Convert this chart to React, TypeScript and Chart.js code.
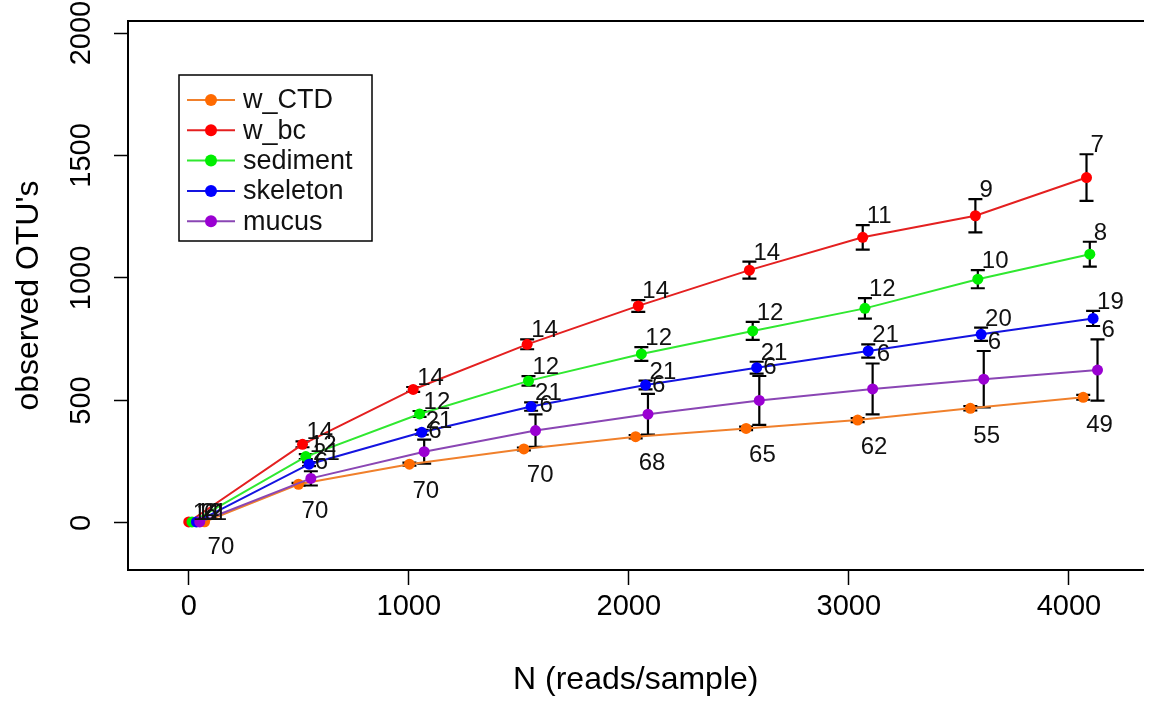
import React, { useEffect, useRef } from 'react';
import { Chart, registerables } from 'chart.js';

Chart.register(...registerables);

// ---------- data ----------
const seriesNames = ['w_CTD', 'w_bc', 'sediment', 'skeleton', 'mucus'];

const readsCTD = [72, 499, 1003, 1523, 2031, 2533, 3040, 3552, 4065];
const readsBc = [0, 517, 1020, 1538, 2043, 2548, 3063, 3575, 4080];
const readsSediment = [15, 532, 1049, 1544, 2057, 2563, 3073, 3586, 4095];
const readsSkeleton = [35, 547, 1059, 1556, 2076, 2581, 3088, 3601, 4110];
const readsMucus = [50, 555, 1070, 1576, 2087, 2593, 3108, 3613, 4130];

const otuCTD = [5, 158, 240, 302, 352, 386, 420, 468, 513];
const otuBc = [4, 321, 545, 729, 886, 1032, 1166, 1254, 1410];
const otuSediment = [4, 271, 445, 580, 690, 784, 876, 995, 1097];
const otuSkeleton = [4, 240, 370, 475, 563, 634, 702, 770, 835];
const otuMucus = [4, 182, 291, 377, 444, 500, 547, 587, 624];

const sdCTD = [0, 6, 6, 6, 7, 7, 8, 9, 10];
const sdBc = [0, 12, 10, 20, 24, 35, 50, 68, 95];
const sdSediment = [0, 10, 12, 19, 28, 37, 42, 37, 51];
const sdSkeleton = [0, 8, 10, 17, 18, 24, 27, 27, 31];
const sdMucus = [0, 29, 49, 66, 83, 100, 104, 115, 125];

const nCTD = [70, 70, 70, 70, 68, 65, 62, 55, 49];
const nBc = [14, 14, 14, 14, 14, 14, 11, 9, 7];
const nSediment = [12, 12, 12, 12, 12, 12, 12, 10, 8];
const nSkeleton = [21, 21, 21, 21, 21, 21, 21, 20, 19];
const nMucus = [6, 6, 6, 6, 6, 6, 6, 6, 6];

const xTicks = [0, 1000, 2000, 3000, 4000];
const yTicks = [0, 500, 1000, 1500, 2000];

const xTitle = 'N (reads/sample)';
const yTitle = "observed OTU's";

// ---------- styles ----------
const dotColors = ['#ff6a00', '#ff0000', '#00ee00', '#0000ff', '#9a00d2'];
const lineColors = ['#f0802c', '#e42020', '#30e830', '#1414e0', '#8a46b4'];
const FONT = '"Liberation Sans", Arial, Helvetica, sans-serif';

const allReads = [readsCTD, readsBc, readsSediment, readsSkeleton, readsMucus];
const allOtu = [otuCTD, otuBc, otuSediment, otuSkeleton, otuMucus];
const allSd = [sdCTD, sdBc, sdSediment, sdSkeleton, sdMucus];
const allN = [nCTD, nBc, nSediment, nSkeleton, nMucus];

const errorBarPlugin = {
  id: 'errorBars',
  beforeDatasetsDraw(chart: any) {
    const { ctx } = chart;
    const x = chart.scales.x;
    const y = chart.scales.y;
    ctx.save();
    ctx.strokeStyle = '#000';
    ctx.lineWidth = 2.2;
    chart.data.datasets.forEach((ds: any) => {
      ds.data.forEach((p: any, i: number) => {
        const sd = ds.sd[i];
        if (!sd) return;
        const px = x.getPixelForValue(p.x);
        const top = y.getPixelForValue(p.y + sd);
        const bot = y.getPixelForValue(p.y - sd);
        const cap = 7;
        ctx.beginPath();
        ctx.moveTo(px, top);
        ctx.lineTo(px, bot);
        ctx.moveTo(px - cap, top);
        ctx.lineTo(px + cap, top);
        ctx.moveTo(px - cap, bot);
        ctx.lineTo(px + cap, bot);
        ctx.stroke();
      });
    });
    ctx.restore();
  },
};

const countLabelPlugin = {
  id: 'countLabels',
  afterDatasetsDraw(chart: any) {
    const { ctx } = chart;
    const x = chart.scales.x;
    const y = chart.scales.y;
    ctx.save();
    ctx.font = `24px ${FONT}`;
    ctx.fillStyle = '#111';
    ctx.textAlign = 'left';
    ctx.textBaseline = 'alphabetic';
    chart.data.datasets.forEach((ds: any) => {
      ds.data.forEach((p: any, i: number) => {
        const sd = ds.sd[i];
        const px = x.getPixelForValue(p.x);
        if (ds.labelBelow) {
          const bot = y.getPixelForValue(p.y - sd);
          ctx.fillText(String(ds.counts[i]), px + 3, bot + 32);
        } else {
          const top = y.getPixelForValue(p.y + sd);
          ctx.fillText(String(ds.counts[i]), px + 4, top - 2);
        }
      });
    });
    ctx.restore();
  },
};

const boxLegendPlugin = {
  id: 'boxLegend',
  afterDraw(chart: any, _args: any, opts: any) {
    const { ctx } = chart;
    const { left, top, width, height, row, firstRow } = opts;
    ctx.save();
    ctx.strokeStyle = '#000';
    ctx.lineWidth = 1.5;
    ctx.strokeRect(left, top, width, height);
    ctx.font = `27px ${FONT}`;
    ctx.textAlign = 'left';
    ctx.textBaseline = 'middle';
    chart.data.datasets.forEach((ds: any, i: number) => {
      const cy = top + firstRow + i * row;
      ctx.strokeStyle = ds.borderColor;
      ctx.lineWidth = 2;
      ctx.beginPath();
      ctx.moveTo(left + 8, cy);
      ctx.lineTo(left + 56, cy);
      ctx.stroke();
      ctx.fillStyle = ds.pointBackgroundColor;
      ctx.beginPath();
      ctx.arc(left + 32, cy, 6, 0, Math.PI * 2);
      ctx.fill();
      ctx.fillStyle = '#111';
      ctx.fillText(ds.label, left + 64, cy + 1);
    });
    ctx.restore();
  },
};

export default function App() {
  const ref = useRef<HTMLCanvasElement | null>(null);

  useEffect(() => {
    if (!ref.current) return;
    const datasets = seriesNames.map((name, s) => ({
      label: name,
      data: allReads[s].map((r, i) => ({ x: r, y: allOtu[s][i] })),
      sd: allSd[s],
      counts: allN[s],
      labelBelow: s === 0,
      borderColor: lineColors[s],
      backgroundColor: dotColors[s],
      pointBackgroundColor: dotColors[s],
      pointBorderWidth: 0,
      pointRadius: 5.5,
      borderWidth: 2,
      showLine: true,
      tension: 0,
      order: -s,
    }));

    const chart = new Chart(ref.current, {
      type: 'scatter',
      data: { datasets } as any,
      plugins: [errorBarPlugin, countLabelPlugin, boxLegendPlugin],
      options: {
        animation: false,
        responsive: false,
        devicePixelRatio: 1,
        layout: { padding: { top: 21, left: 0, right: 0, bottom: 0 } },
        plugins: {
          legend: { display: false },
          tooltip: { enabled: false },
          boxLegend: { left: 179, top: 75, width: 193, height: 166, firstRow: 25, row: 30.3 },
        } as any,
        scales: {
          x: {
            type: 'linear',
            position: 'bottom',
            min: -276,
            max: 4339,
            afterBuildTicks: (scale: any) => {
              scale.ticks = xTicks.map((v) => ({ value: v }));
            },
            afterFit: (scale: any) => {
              scale.height = 131;
            },
            ticks: {
              color: '#000',
              font: { family: FONT, size: 29 },
              padding: 5,
              maxRotation: 0,
              minRotation: 0,
              autoSkip: false,
              callback: (v: any) => String(v),
            },
            grid: {
              drawOnChartArea: false,
              color: '#000',
              tickLength: 15,
              tickWidth: 1.5,
            },
            border: { display: true, color: '#000', width: 2 },
            title: {
              display: true,
              text: xTitle,
              color: '#000',
              font: { family: FONT, size: 32 },
              padding: { top: 0, bottom: 2 },
            },
          },
          x2: {
            type: 'linear',
            position: 'top',
            min: -276,
            max: 4339,
            afterFit: (scale: any) => {
              scale.height = 0;
            },
            ticks: { display: false },
            grid: { drawOnChartArea: false, drawTicks: false },
            border: { display: true, color: '#000', width: 2 },
          },
          y: {
            type: 'linear',
            position: 'left',
            min: -192,
            max: 2049,
            afterBuildTicks: (scale: any) => {
              scale.ticks = yTicks.map((v) => ({ value: v }));
            },
            afterFit: (scale: any) => {
              scale.width = 128;
            },
            ticks: {
              color: '#000',
              font: { family: FONT, size: 29 },
              padding: 0,
              minRotation: 90,
              maxRotation: 90,
              crossAlign: 'center',
              autoSkip: false,
              callback: (v: any) => String(v),
            },
            grid: {
              drawOnChartArea: false,
              color: '#000',
              tickLength: 14,
              tickWidth: 1.5,
            },
            border: { display: true, color: '#000', width: 2 },
            title: {
              display: true,
              text: yTitle,
              color: '#000',
              font: { family: FONT, size: 32 },
              padding: { top: 10, bottom: 0 },
            },
          },
        },
      } as any,
    });
    return () => chart.destroy();
  }, []);

  return (
    <div style={{ position: 'fixed', left: 0, top: 0, width: 1149, height: 701, background: '#fff' }}>
      <canvas ref={ref} width={1149} height={701} style={{ width: 1149, height: 701, display: 'block' }} />
    </div>
  );
}
